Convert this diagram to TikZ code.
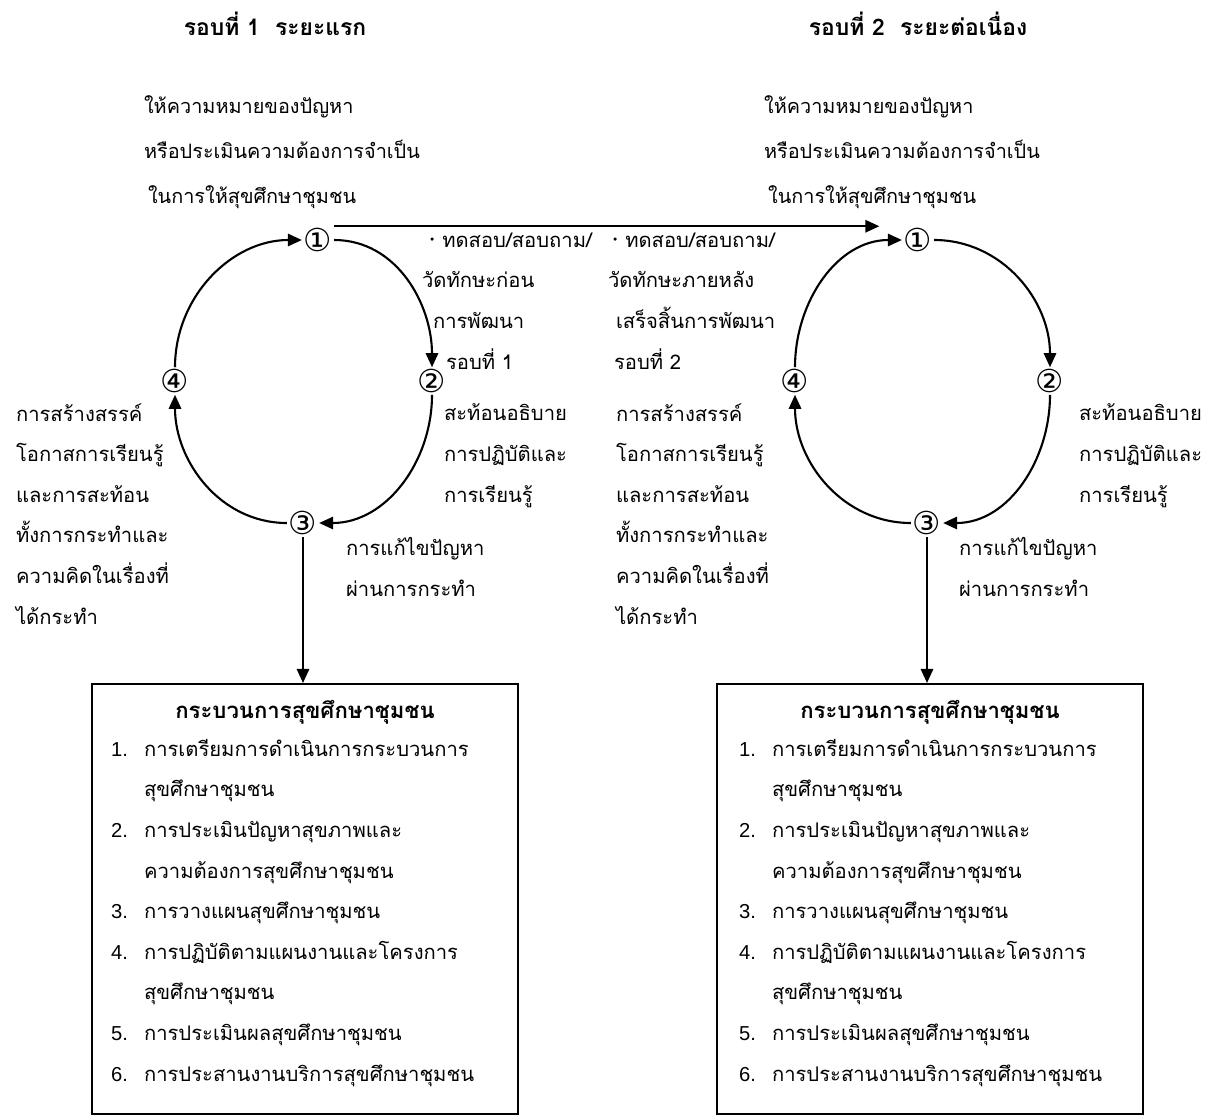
\documentclass[tikz,border=0pt]{standalone}
\usepackage{fontspec}
\setmainfont{Liberation Sans}
\newfontfamily\thaifont[Script=Thai]{Loma}
\newfontfamily\latfont{Liberation Sans}
\newfontfamily\symfont{DejaVu Sans}
\usetikzlibrary{arrows.meta,positioning}
\tikzset{every picture/.style={line width=1.2pt}}
\tikzset{
  cyc/.style={-{Triangle[length=8pt,width=7pt]}},
  num/.style={font=\symfont\fontsize{18}{18}\selectfont, inner sep=0.5pt},
  txt/.style={font=\thaifont\fontsize{11.5}{23.1}\selectfont, align=left, anchor=base west, inner sep=0pt},
  toptxt/.style={txt, font=\thaifont\fontsize{11.3}{25.5}\selectfont},
  head/.style={font=\thaifont\bfseries\fontsize{13}{13}\selectfont, anchor=base, inner sep=0pt},
  boxhead/.style={font=\thaifont\bfseries\fontsize{12.6}{13}\selectfont, anchor=base, inner sep=0pt},
  procbox/.style={draw, line width=1pt, minimum width=8.52cm, minimum height=8.6cm, inner sep=0pt, anchor=north}
}
\newcommand{\itm}[1]{\makebox[0.66cm][l]{\latfont #1}}
\newcommand{\bul}{\raisebox{2pt}{\symfont\fontsize{6}{6}\selectfont •}\hspace{0.14cm}}

\begin{document}
\begin{tikzpicture}[x=0.02cm, y=-0.02cm]
    \useasboundingbox (0,0) rectangle (1216,1115);
    % หัวเรื่อง
    \node[head] (headL) at (275,36) {รอบที่ 1\ \ ระยะแรก};
    \node[head] (headR) at (918,36) {รอบที่ 2\ \ ระยะต่อเนื่อง};
    % รอบที่ 1
    \node[num] (l1) at (318,240) {①};
    \node[num] (l2) at (432,381) {②};
    \node[num] (l3) at (303,523) {③};
    \node[num] (l4) at (175,381) {④};
    \draw[cyc] (l1.east) to[out=0,in=90] (l2.north);
    \draw[cyc] (l2.south) to[out=-90,in=0] (l3.east);
    \draw[cyc] (l3.west) to[out=180,in=-90] (l4.south);
    \draw[cyc] (l4.north) to[out=90,in=180] (l1.west);
    % รอบที่ 2
    \node[num] (r1) at (918,240) {①};
    \node[num] (r2) at (1050,381) {②};
    \node[num] (r3) at (927,523) {③};
    \node[num] (r4) at (795,381) {④};
    \draw[cyc] (r1.east) to[out=0,in=90] (r2.north);
    \draw[cyc] (r2.south) to[out=-90,in=0] (r3.east);
    \draw[cyc] (r3.west) to[out=180,in=-90] (r4.south);
    \draw[cyc] (r4.north) to[out=90,in=180] (r1.west);
    % เส้นเชื่อมสองรอบ
    \draw[cyc, shorten >=0.45cm] (l1.north east) -- (l1.north east -| r1.west);
    % ข้อความประกอบ (จุดวางคือเส้นฐานของบรรทัดสุดท้าย)
    \node[toptxt] (topL) at (143,203) {ให้ความหมายของปัญหา\\หรือประเมินความต้องการจำเป็น\\\hspace*{0.08cm}ในการให้สุขศึกษาชุมชน};
    \node[toptxt] (topR) at (763,203) {ให้ความหมายของปัญหา\\หรือประเมินความต้องการจำเป็น\\\hspace*{0.08cm}ในการให้สุขศึกษาชุมชน};
    \node[txt] (testL) at (421,369) {\hspace*{0.14cm}\bul ทดสอบ/สอบถาม/\\วัดทักษะก่อน\\\hspace*{0.22cm}การพัฒนา\\\hspace*{0.48cm}รอบที่ 1};
    \node[txt] (testR) at (607,369) {\hspace*{0.08cm}\bul ทดสอบ/สอบถาม/\\วัดทักษะภายหลัง\\\hspace*{0.16cm}เสร็จสิ้นการพัฒนา\\\hspace*{0.12cm}รอบที่ 2};
    \node[txt] (reflL) at (443,502) {สะท้อนอธิบาย\\การปฏิบัติและ\\การเรียนรู้};
    \node[txt] (reflR) at (1078,502) {สะท้อนอธิบาย\\การปฏิบัติและ\\การเรียนรู้};
    \node[txt] (solveL) at (345,596) {การแก้ไขปัญหา\\ผ่านการกระทำ};
    \node[txt] (solveR) at (958,596) {การแก้ไขปัญหา\\ผ่านการกระทำ};
    \node[txt] (makeL) at (15,624) {การสร้างสรรค์\\โอกาสการเรียนรู้\\และการสะท้อน\\ทั้งการกระทำและ\\ความคิดในเรื่องที่\\ได้กระทำ};
    \node[txt] (makeR) at (615,624) {การสร้างสรรค์\\โอกาสการเรียนรู้\\และการสะท้อน\\ทั้งการกระทำและ\\ความคิดในเรื่องที่\\ได้กระทำ};
    % กล่องกระบวนการ
    \node[procbox] (boxL) at (305,683) {};
    \node[procbox] (boxR) at (930,683) {};
    \draw[cyc] (l3.south) -- (l3.south |- boxL.north);
    \draw[cyc] (r3.south) -- (r3.south |- boxR.north);
    \node[boxhead] (bhL) at (305,718) {กระบวนการสุขศึกษาชุมชน};
    \node[boxhead] (bhR) at (930,718) {กระบวนการสุขศึกษาชุมชน};
    \node[txt] (listL) at (110,1081) {\itm{1.}การเตรียมการดำเนินการกระบวนการ\\\itm{}สุขศึกษาชุมชน\\\itm{2.}การประเมินปัญหาสุขภาพและ\\\itm{}ความต้องการสุขศึกษาชุมชน\\\itm{3.}การวางแผนสุขศึกษาชุมชน\\\itm{4.}การปฏิบัติตามแผนงานและโครงการ\\\itm{}สุขศึกษาชุมชน\\\itm{5.}การประเมินผลสุขศึกษาชุมชน\\\itm{6.}การประสานงานบริการสุขศึกษาชุมชน};
    \node[txt] (listR) at (738,1081) {\itm{1.}การเตรียมการดำเนินการกระบวนการ\\\itm{}สุขศึกษาชุมชน\\\itm{2.}การประเมินปัญหาสุขภาพและ\\\itm{}ความต้องการสุขศึกษาชุมชน\\\itm{3.}การวางแผนสุขศึกษาชุมชน\\\itm{4.}การปฏิบัติตามแผนงานและโครงการ\\\itm{}สุขศึกษาชุมชน\\\itm{5.}การประเมินผลสุขศึกษาชุมชน\\\itm{6.}การประสานงานบริการสุขศึกษาชุมชน};
\end{tikzpicture}
\end{document}
